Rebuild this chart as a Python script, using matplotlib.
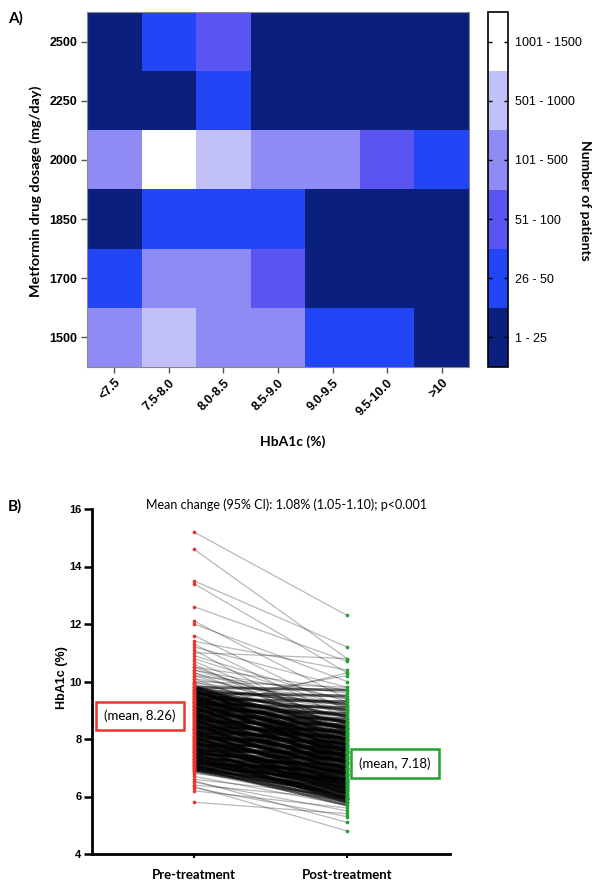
import matplotlib
matplotlib.use("Agg")
import matplotlib.pyplot as plt
import numpy as np
from matplotlib.colors import ListedColormap, BoundaryNorm

# ---------------- Data ----------------
hba1c_bins = ["<7.5", "7.5-8.0", "8.0-8.5", "8.5-9.0", "9.0-9.5", "9.5-10.0", ">10"]
dosages = ["1500", "1700", "1850", "2000", "2250", "2500"]
count_classes = ["1 - 25", "26 - 50", "51 - 100", "101 - 500", "501 - 1000", "1001 - 1500"]
# class index per cell, rows follow `dosages` (bottom to top)
row_1500 = [3, 4, 3, 3, 1, 1, 0]
row_1700 = [1, 3, 3, 2, 0, 0, 0]
row_1850 = [0, 1, 1, 1, 0, 0, 0]
row_2000 = [3, 5, 4, 3, 3, 2, 1]
row_2250 = [0, 0, 1, 0, 0, 0, 0]
row_2500 = [0, 1, 2, 0, 0, 0, 0]
class_colors = ["#0b1f7e", "#2245f6", "#5a55f0", "#8e8cf4", "#c2c0f8", "#ffffff"]

# Panel B: paired HbA1c values (pre, post), sampled from the plot
# dense core of patients
pre_core = [6.9, 6.95, 7.0, 7.0, 7.05, 7.1, 7.1, 7.15, 7.2, 7.2, 7.25, 7.3, 7.3, 7.35, 7.4, 7.4,
            7.45, 7.5, 7.5, 7.55, 7.6, 7.6, 7.65, 7.7, 7.7, 7.75, 7.8, 7.8, 7.85, 7.9, 7.9, 7.95,
            8.0, 8.0, 8.05, 8.1, 8.1, 8.15, 8.2, 8.2, 8.25, 8.3, 8.3, 8.35, 8.4, 8.4, 8.45, 8.5,
            8.5, 8.55, 8.6, 8.6, 8.65, 8.7, 8.7, 8.75, 8.8, 8.8, 8.85, 8.9, 8.9, 8.95, 9.0, 9.0,
            9.05, 9.1, 9.1, 9.15, 9.2, 9.2, 9.25, 9.3, 9.3, 9.35, 9.4, 9.4, 9.45, 9.5, 9.5, 9.55,
            9.6, 9.6, 9.65, 9.7, 9.7, 9.75, 9.8, 9.8,
            6.92, 7.02, 7.12, 7.22, 7.32, 7.42, 7.52, 7.62, 7.72, 7.82, 7.92, 8.02, 8.12, 8.22,
            8.32, 8.42, 8.52, 8.62, 8.72, 8.82, 8.92, 9.02, 9.12, 9.22, 9.32, 9.42, 9.52, 9.62,
            9.72, 9.82]
post_core = [5.9, 6.3, 5.7, 6.6, 6.0, 6.4, 5.8, 6.9, 6.1, 6.6, 5.9, 6.3, 7.1, 6.0, 6.7, 6.2,
             7.3, 6.4, 5.8, 6.9, 6.1, 7.5, 6.5, 6.8, 5.9, 7.2, 6.3, 7.7, 6.6, 7.0, 6.1, 7.4,
             6.5, 7.9, 6.8, 7.2, 6.2, 7.6, 6.7, 8.1, 7.0, 7.4, 6.4, 7.8, 6.9, 8.3, 7.2, 7.6,
             6.6, 8.0, 7.1, 8.5, 7.4, 7.8, 6.8, 8.2, 7.3, 8.7, 7.6, 8.0, 7.0, 8.4, 7.5, 8.9,
             7.8, 8.2, 7.2, 8.6, 7.7, 9.1, 8.0, 8.4, 7.4, 8.8, 7.9, 9.3, 8.2, 8.6, 7.6, 9.0,
             8.1, 9.5, 8.4, 8.8, 7.8, 9.2, 8.3, 9.7,
             6.1, 6.2, 6.5, 6.8, 5.95, 6.45, 7.0, 6.25, 6.55, 7.3, 6.35, 6.75, 7.5, 6.55,
             6.95, 7.7, 6.75, 7.15, 7.95, 6.95, 7.35, 8.15, 7.15, 7.55, 8.35, 7.35, 7.75, 8.55,
             7.55, 7.95]
# sparser patients at the edges of the distribution
pre_edge = [15.2, 14.6, 13.5, 13.4, 12.6, 12.1, 12.0, 11.6, 11.4, 11.3, 11.2, 11.1, 11.0, 10.9,
            10.8, 10.7, 10.6, 10.5, 10.5, 10.4, 10.4, 10.3, 10.3, 10.2, 10.2, 10.1, 10.1,
            10.0, 10.0, 9.95, 9.9, 9.9, 9.85, 9.3, 9.0,
            6.2, 6.3, 6.4, 6.5, 6.6, 6.7, 6.8, 6.85, 6.35, 6.55, 5.8]
post_edge = [12.3, 10.8, 11.2, 10.3, 10.7, 9.4, 10.0, 9.0, 10.4, 8.7, 9.8, 8.2, 10.8, 9.3,
             9.1, 8.5, 8.1, 9.7, 8.6, 9.4, 8.9, 9.0, 8.4, 9.6, 8.7, 9.2, 8.2,
             8.5, 9.8, 9.4, 9.0, 8.0, 8.6, 10.2, 10.3,
             5.6, 5.3, 5.9, 5.5, 6.0, 5.7, 6.2, 5.8, 4.8, 5.1, 5.4]
group_labels = ["Pre-treatment", "Post-treatment"]
y_ticks_b = [4, 6, 8, 10, 12, 14, 16]

# ---------------- Figure ----------------
W, H = 604, 886
fig = plt.figure(figsize=(W / 100, H / 100), dpi=100)

def fx(px):
    return px / W

def fy(py):
    return 1 - py / H

# Panel A heatmap
axA = fig.add_axes([fx(87), fy(367), fx(469) - fx(87), fy(12) - fy(367)])
grid = np.array([row_1500, row_1700, row_1850, row_2000, row_2250, row_2500])
cmap = ListedColormap(class_colors)
norm = BoundaryNorm(np.arange(-0.5, len(class_colors) + 0.5, 1), cmap.N)
mesh = axA.pcolormesh(np.arange(len(hba1c_bins) + 1) - 0.5, np.arange(len(dosages) + 1) - 0.5,
                      grid, cmap=cmap, norm=norm)
axA.set_xlim(-0.5, len(hba1c_bins) - 0.5)
axA.set_ylim(-0.5, len(dosages) - 0.5)
axA.set_xticks(range(len(hba1c_bins)))
axA.set_xticklabels(hba1c_bins, rotation=45, ha="right", rotation_mode="anchor",
                    fontsize=9, fontweight="bold", family="Liberation Sans")
axA.set_yticks(range(len(dosages)))
axA.set_yticklabels(dosages, fontsize=9, fontweight="bold", family="Liberation Sans")
axA.tick_params(direction="out", length=4, width=1, color="#555555", pad=3)
for s in axA.spines.values():
    s.set_color("#888888")
    s.set_linewidth(0.8)

fig.text(fx(36), fy(191), "Metformin drug dosage (mg/day)", rotation=90, ha="center", va="center",
         fontsize=10.4, fontweight="bold", family="Lato")
fig.text(fx(293), fy(442), "HbA1c (%)", ha="center", va="center",
         fontsize=10, fontweight="bold", family="Lato")
fig.text(fx(8), fy(18), "A)", ha="left", va="center", fontsize=11, fontweight="bold", family="Lato")

# colorbar
cax = fig.add_axes([fx(488), fy(367), fx(508) - fx(488), fy(12) - fy(367)])
cb = fig.colorbar(mesh, cax=cax, ticks=range(len(count_classes)))
cb.ax.minorticks_off()
cb.ax.set_yticks(range(len(count_classes)))
cb.ax.set_yticklabels(count_classes, fontsize=9, family="Liberation Sans")
cb.ax.tick_params(which="both", direction="in", length=3, width=1, left=True, right=True, pad=5)
cb.ax.tick_params(which="minor", length=0)
cb.outline.set_linewidth(1.2)
fig.text(fx(585), fy(200), "Number of patients", rotation=-90, ha="center", va="center",
         fontsize=10, fontweight="bold", family="Lato")

# Panel B spaghetti plot
axB = fig.add_axes([fx(92), fy(854), fx(450) - fx(92), fy(509) - fy(854)])
for a, b in zip(pre_edge, post_edge):
    axB.plot([0, 1], [a, b], color="black", alpha=0.28, lw=0.9, solid_capstyle="butt", zorder=1)
for a, b in zip(pre_core, post_core):
    axB.plot([0, 1], [a, b], color="black", alpha=0.6, lw=2.0, solid_capstyle="butt", zorder=2)
pre_all = pre_core + pre_edge
post_all = post_core + post_edge
axB.scatter(np.zeros(len(pre_all)), pre_all, s=7, color="#e8342c", zorder=3, linewidths=0)
axB.scatter(np.ones(len(post_all)), post_all, s=7, color="#22a22c", zorder=3, linewidths=0)
axB.set_xlim(-0.667, 1.673)
axB.set_ylim(4, 16)
axB.set_yticks(y_ticks_b)
axB.set_yticklabels([str(v) for v in y_ticks_b], fontsize=8, fontweight="bold", family="Liberation Sans")
axB.set_xticks([0, 1])
axB.set_xticklabels(group_labels, fontsize=9.5, fontweight="bold", family="Lato")
axB.tick_params(axis="y", direction="out", length=6, width=1.8, pad=1.5)
axB.tick_params(axis="x", direction="out", length=3, width=1.5, pad=8)
for side in ["top", "right"]:
    axB.spines[side].set_visible(False)
for side in ["left", "bottom"]:
    axB.spines[side].set_linewidth(2)

axB.text(0.134, 0.40, "(mean, 8.26)", transform=axB.transAxes, ha="center", va="center",
         fontsize=9.5, family="Lato", zorder=5,
         bbox=dict(boxstyle="square,pad=0.6", fc="white", ec="#e8342c", lw=1.8))
axB.text(0.846, 0.262, "(mean, 7.18)", transform=axB.transAxes, ha="center", va="center",
         fontsize=9.5, family="Lato", zorder=5,
         bbox=dict(boxstyle="square,pad=0.6", fc="white", ec="#22a22c", lw=1.8))

fig.text(fx(286), fy(505), "Mean change (95% CI): 1.08% (1.05-1.10); p<0.001", ha="center", va="center",
         fontsize=9, family="Lato")
fig.text(fx(62), fy(678), "HbA1c (%)", rotation=90, ha="center", va="center",
         fontsize=9, fontweight="bold", family="Liberation Sans")
fig.text(fx(8), fy(506), "B)", ha="left", va="center", fontsize=11, fontweight="bold", family="Lato")

fig.savefig("out.png", dpi=100)
